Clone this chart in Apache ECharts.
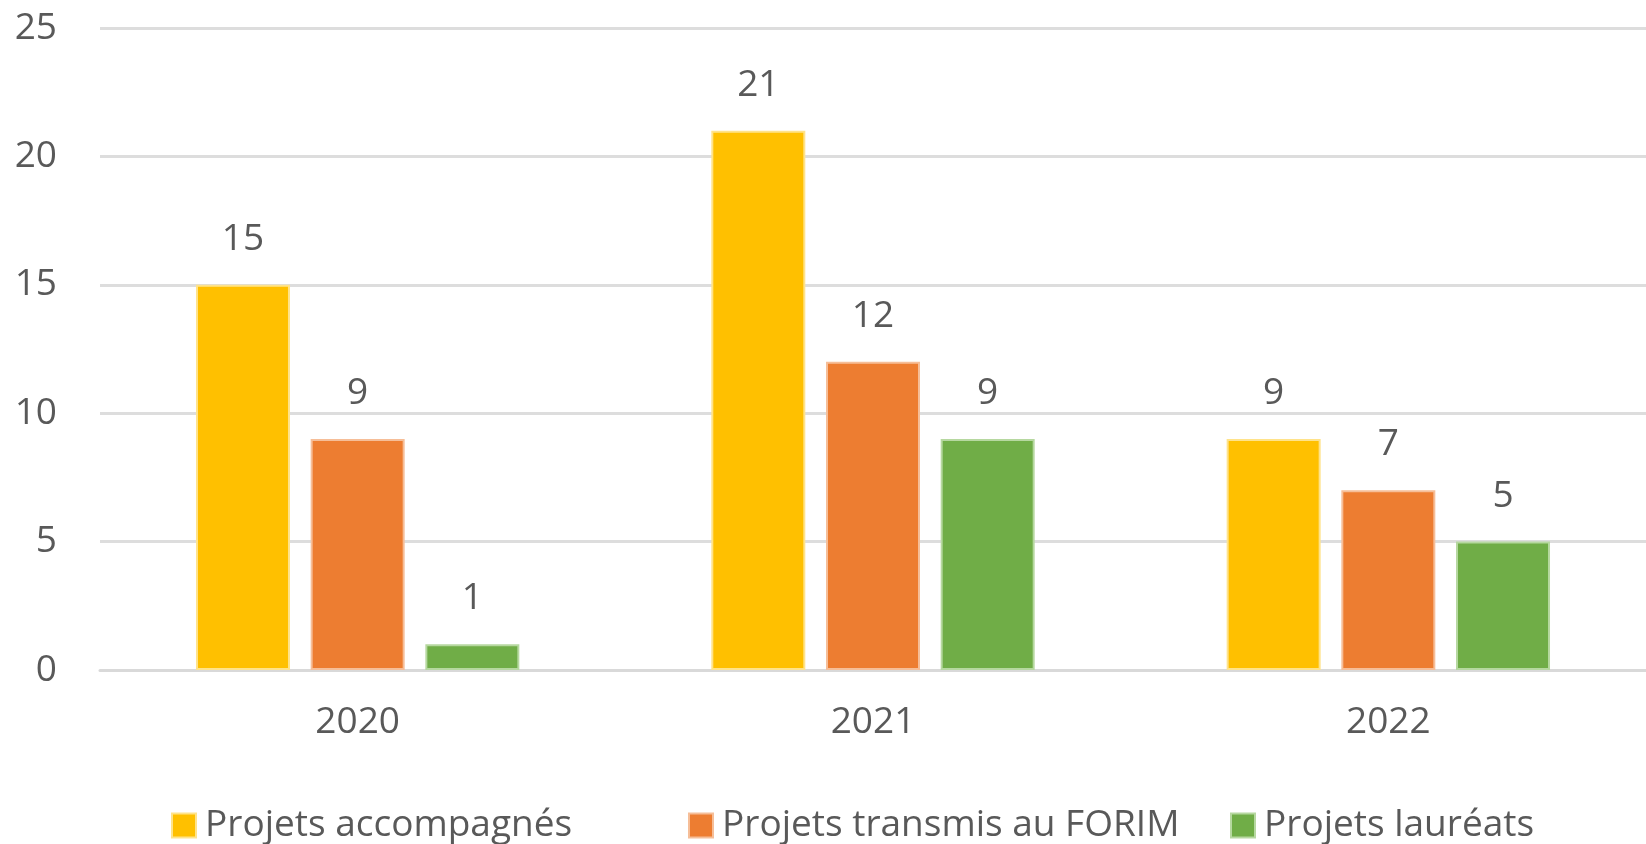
<!DOCTYPE html>
<html>
<head>
<meta charset="utf-8">
<script src="https://cdn.jsdelivr.net/npm/echarts@6/dist/echarts.min.js"></script>
<style>
    html, body { margin: 0; padding: 0; background: #fff; }
    #main { width: 1646px; height: 844px; }
</style>
</head>
<body>
<div id="main"></div>
<script>
var years = ['2020', '2021', '2022'];
var accompagnes = [15, 21, 9];
var transmis = [9, 12, 7];
var laureats = [1, 9, 5];
var seriesNames = ['Projets accompagnés', 'Projets transmis au FORIM', 'Projets lauréats'];

var textColor = '#595959';
var font = '"Open Sans", "Liberation Sans", sans-serif';

function barSerie(name, data, color, border) {
    return {
        name: name,
        type: 'bar',
        data: data,
        barWidth: 94,
        barGap: '22%',
        itemStyle: { color: color, borderColor: border, borderWidth: 2 },
        label: {
            show: true,
            position: 'top',
            distance: 27,
            color: textColor,
            fontFamily: font,
            fontSize: 37
        }
    };
}

// une légende par série pour caler les positions comme dans l'original
function legendItem(name, left) {
    return {
        data: [name],
        left: left,
        top: 802,
        icon: 'rect',
        itemWidth: 24,
        itemHeight: 24,
        textStyle: { color: textColor, fontFamily: font, fontSize: 37, padding: [0, 0, 0, 4] }
    };
}

var myChart = echarts.init(document.getElementById('main'));
var option = {
    backgroundColor: '#fff',
    animation: false,
    grid: { left: 100, width: 1564, top: 28, bottom: 174 },
    legend: [
        legendItem(seriesNames[0], 166),
        legendItem(seriesNames[1], 683),
        legendItem(seriesNames[2], 1225)
    ],
    xAxis: {
        type: 'category',
        data: years,
        axisLine: { show: true, lineStyle: { color: '#d9d9d9', width: 3 } },
        axisTick: { show: false },
        axisLabel: { color: textColor, fontFamily: font, fontSize: 37, margin: 34 }
    },
    yAxis: {
        type: 'value',
        min: 0,
        max: 25,
        interval: 5,
        axisLine: { show: false },
        axisTick: { show: false },
        axisLabel: { color: textColor, fontFamily: font, fontSize: 37, margin: 43 },
        splitLine: { lineStyle: { color: '#dddddd', width: 3 } }
    },
    series: [
        barSerie(seriesNames[0], accompagnes, '#FFC000', '#FFE38A'),
        barSerie(seriesNames[1], transmis, '#ED7D31', '#F6BE98'),
        barSerie(seriesNames[2], laureats, '#70AD47', '#B6D8A0')
    ]
};
myChart.setOption(option);
</script>
</body>
</html>
